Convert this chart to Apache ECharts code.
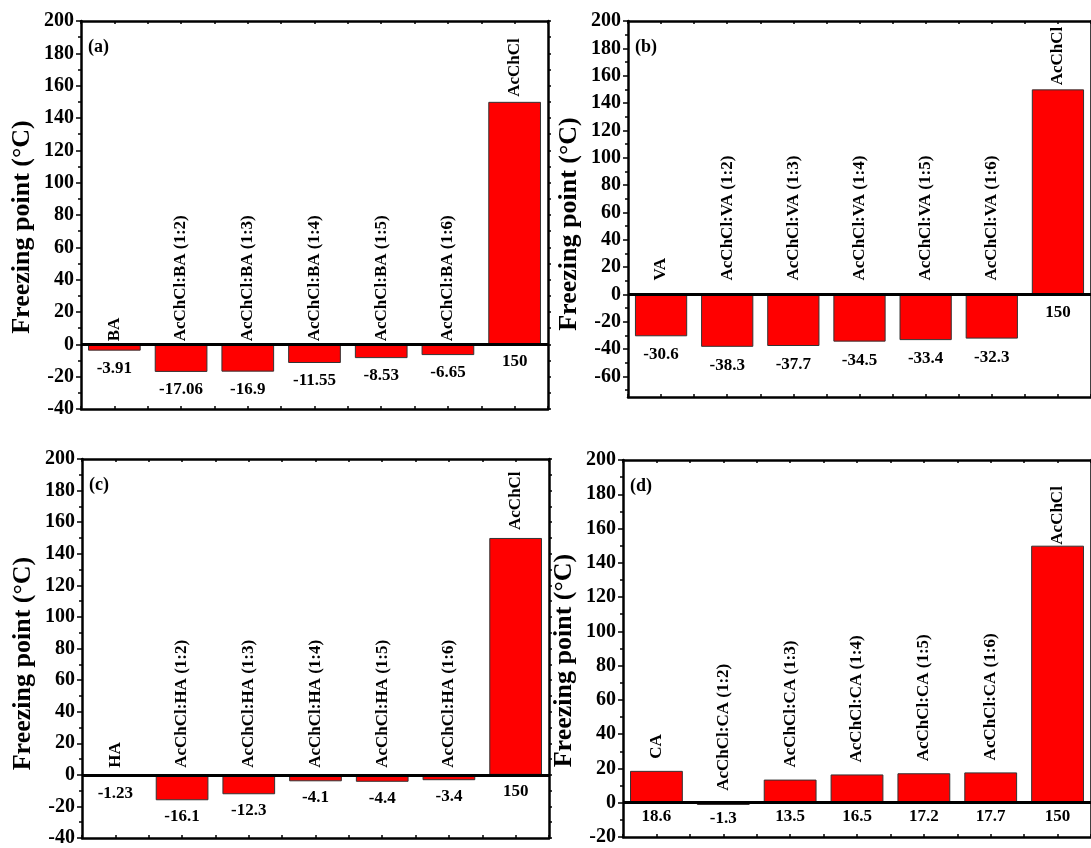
<!DOCTYPE html>
<html>
<head>
<meta charset="utf-8">
<script src="https://cdn.jsdelivr.net/npm/echarts@6/dist/echarts.min.js"></script>
<style>
  html, body { margin: 0; padding: 0; background: #fff; }
  #chart { width: 1091px; height: 848px; }
</style>
</head>
<body>
<div id="chart"></div>
<script>
// Freezing points of acetylcholine chloride (AcChCl) mixtures with four acids
const categoriesBA = ['BA', 'AcChCl:BA (1:2)', 'AcChCl:BA (1:3)', 'AcChCl:BA (1:4)', 'AcChCl:BA (1:5)', 'AcChCl:BA (1:6)', 'AcChCl'];
const valuesBA = [-3.91, -17.06, -16.9, -11.55, -8.53, -6.65, 150];

const categoriesVA = ['VA', 'AcChCl:VA (1:2)', 'AcChCl:VA (1:3)', 'AcChCl:VA (1:4)', 'AcChCl:VA (1:5)', 'AcChCl:VA (1:6)', 'AcChCl'];
const valuesVA = [-30.6, -38.3, -37.7, -34.5, -33.4, -32.3, 150];

const categoriesHA = ['HA', 'AcChCl:HA (1:2)', 'AcChCl:HA (1:3)', 'AcChCl:HA (1:4)', 'AcChCl:HA (1:5)', 'AcChCl:HA (1:6)', 'AcChCl'];
const valuesHA = [-1.23, -16.1, -12.3, -4.1, -4.4, -3.4, 150];

const categoriesCA = ['CA', 'AcChCl:CA (1:2)', 'AcChCl:CA (1:3)', 'AcChCl:CA (1:4)', 'AcChCl:CA (1:5)', 'AcChCl:CA (1:6)', 'AcChCl'];
const valuesCA = [18.6, -1.3, 13.5, 16.5, 17.2, 17.7, 150];

// y-axis tick labels per panel
const yTicksA = [-40, -20, 0, 20, 40, 60, 80, 100, 120, 140, 160, 180, 200];
const yTicksB = [-60, -40, -20, 0, 20, 40, 60, 80, 100, 120, 140, 160, 180, 200];
const yTicksC = [-40, -20, 0, 20, 40, 60, 80, 100, 120, 140, 160, 180, 200];
const yTicksD = [-20, 0, 20, 40, 60, 80, 100, 120, 140, 160, 180, 200];

const FONT = '"Liberation Serif", "Times New Roman", serif';
const RED = '#ff0000';

const panels = [
  { letter: '(a)', cats: categoriesBA, vals: valuesBA, ticks: yTicksA, min: -40,
    grid: { left: 81, top: 21, width: 467, height: 388 }, nameGap: 3, peakGap: 5, valueGap: 9, titleShift: 24 },
  { letter: '(b)', cats: categoriesVA, vals: valuesVA, ticks: yTicksB, min: -75,
    grid: { left: 628, top: 21, width: 470, height: 376 }, nameGap: 14, peakGap: 4, valueGap: 10, titleShift: 30 },
  { letter: '(c)', cats: categoriesHA, vals: valuesHA, ticks: yTicksC, min: -40,
    grid: { left: 82, top: 459, width: 467, height: 384 }, nameGap: 7, peakGap: 8, valueGap: 8, titleShift: 30 },
  { letter: '(d)', cats: categoriesCA, vals: valuesCA, ticks: yTicksD, min: -20,
    grid: { left: 623, top: 460, width: 483, height: 377 }, nameGap: 12, peakGap: 1, valueGap: 5, titleShift: 24 }
];

const axisLineStyle = { color: '#000', width: 2.5 };
const tickStyle = { color: '#000', width: 1.5 };

const grids = [], xAxes = [], yAxes = [], series = [], titles = [];

panels.forEach((p, gi) => {
  grids.push(Object.assign({ containLabel: false }, p.grid));
  const minors = p.ticks.map(t => t - 10).filter(t => t >= p.min);
  const allTicks = p.ticks.concat(minors);

  // category axis carrying the bars (bottom frame line)
  const xCat = xAxes.length;
  xAxes.push({
    type: 'category', gridIndex: gi, data: p.cats, position: 'bottom',
    axisLine: { onZero: false, lineStyle: axisLineStyle },
    axisTick: { show: false }, axisLabel: { show: false }, splitLine: { show: false }
  });
  // half-category tick marks on bottom and top frame
  xAxes.push({
    type: 'value', gridIndex: gi, min: 0, max: 7, interval: 0.5, position: 'bottom',
    axisLine: { show: false, onZero: false },
    axisTick: { show: true, inside: true, length: 3, lineStyle: tickStyle },
    axisLabel: { show: false }, splitLine: { show: false }
  });
  xAxes.push({
    type: 'value', gridIndex: gi, min: 0, max: 7, interval: 0.5, position: 'top',
    axisLine: { show: true, onZero: false, lineStyle: axisLineStyle },
    axisTick: { show: true, inside: true, length: 3, lineStyle: tickStyle },
    axisLabel: { show: false }, splitLine: { show: false }
  });

  const yMain = yAxes.length;
  yAxes.push({
    type: 'value', gridIndex: gi, min: p.min, max: 200, position: 'left',
    name: 'Freezing point (°C)', nameLocation: 'middle', nameGap: 46,
    nameTextStyle: { fontFamily: FONT, fontWeight: 'bold', fontSize: 26, color: '#000',
      padding: [0, p.titleShift, 0, 0] },
    axisLine: { show: true, onZero: false, lineStyle: axisLineStyle },
    axisTick: { show: true, length: 5, customValues: p.ticks, lineStyle: tickStyle },
    axisLabel: { show: true, customValues: p.ticks, margin: 7,
      fontFamily: FONT, fontWeight: 'bold', fontSize: 20, color: '#000' },
    splitLine: { show: false }
  });
  yAxes.push({
    type: 'value', gridIndex: gi, min: p.min, max: 200, position: 'left',
    axisLine: { show: false },
    axisTick: { show: true, length: 3, customValues: minors, lineStyle: tickStyle },
    axisLabel: { show: false }, splitLine: { show: false }
  });
  yAxes.push({
    type: 'value', gridIndex: gi, min: p.min, max: 200, position: 'right',
    axisLine: { show: true, onZero: false, lineStyle: axisLineStyle },
    axisTick: { show: true, length: 3, customValues: allTicks, lineStyle: tickStyle },
    axisLabel: { show: false }, splitLine: { show: false }
  });

  const peak = p.vals.length - 1;
  // bars with the rotated composition names above them
  series.push({
    type: 'bar', xAxisIndex: xCat, yAxisIndex: yMain, barWidth: '79%', barGap: '-100%',
    data: p.vals.map((v, i) => i === peak ? { value: v, label: { distance: p.peakGap } } : v),
    itemStyle: { color: RED, borderColor: '#333', borderWidth: 1 },
    label: {
      show: true, position: 'top', rotate: 90, align: 'left', verticalAlign: 'middle',
      distance: p.nameGap, formatter: '{b}',
      fontFamily: FONT, fontWeight: 'bold', fontSize: 17, color: '#000'
    },
    markLine: {
      silent: true, symbol: 'none', label: { show: false },
      lineStyle: { color: '#000', width: 3, type: 'solid' },
      data: [{ yAxis: 0 }]
    },
    animation: false
  });
  // value labels under each bar
  series.push({
    type: 'bar', xAxisIndex: xCat, yAxisIndex: yMain, barWidth: '79%', barGap: '-100%',
    data: p.vals.slice(),
    itemStyle: { color: 'rgba(0,0,0,0)' },
    label: {
      show: true, position: 'bottom', distance: p.valueGap, formatter: '{c}',
      fontFamily: FONT, fontWeight: 'bold', fontSize: 17, color: '#000'
    },
    animation: false
  });

  titles.push({
    text: p.letter, left: p.grid.left + 7, top: p.grid.top + 17, padding: 0,
    textStyle: { fontFamily: FONT, fontWeight: 'bold', fontSize: 18, color: '#000' }
  });
});

const chart = echarts.init(document.getElementById('chart'), null, { renderer: 'canvas' });
chart.setOption({
  backgroundColor: '#fff',
  animation: false,
  title: titles,
  grid: grids,
  xAxis: xAxes,
  yAxis: yAxes,
  series: series
});
</script>
</body>
</html>
